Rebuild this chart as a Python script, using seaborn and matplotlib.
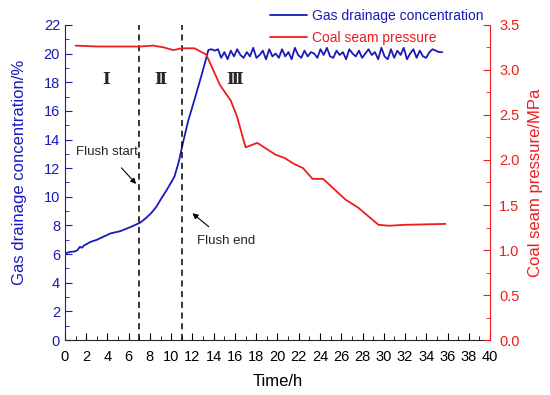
import numpy as np
import matplotlib
matplotlib.use("Agg")
import matplotlib.pyplot as plt
import seaborn as sns
from matplotlib.ticker import MultipleLocator

# gas drainage concentration (%), rising part
conc_time = [0, 0.2, 0.5, 1.0, 1.2, 1.4, 1.6, 1.8, 2.4, 3.0, 4.3, 5.2, 6.2, 7.1,
             7.6, 8.1, 8.6, 9.0, 9.6, 10.3, 10.7, 11.1, 11.6, 12.2, 12.9, 13.5]
conc_rise = [6.0, 6.1, 6.15, 6.2, 6.3, 6.5, 6.45, 6.6, 6.85, 7.0, 7.45, 7.6, 7.9, 8.2,
             8.5, 8.85, 9.3, 9.8, 10.5, 11.4, 12.4, 13.75, 15.3, 16.8, 18.6, 20.25]
# plateau after flushing (13.8 h .. 35.5 h, regular sampling)
conc_plateau = [20.3, 20.2, 20.3, 19.7, 20.1, 19.6, 20.2, 19.8, 20.3, 19.9, 19.7, 20.1,
                19.8, 20.4, 19.7, 19.9, 20.2, 19.6, 20.3, 19.8, 20.0, 19.7, 20.3, 19.8,
                20.1, 19.6, 20.4, 19.9, 19.7, 20.2, 19.8, 20.1, 20.0, 19.7, 20.3, 19.9,
                20.4, 19.8, 19.7, 20.2, 19.9, 20.1, 19.6, 20.3, 20.0, 19.8, 20.2, 19.7,
                20.0, 20.3, 19.9, 20.1, 19.6, 20.4, 19.8, 19.6, 20.3, 19.7, 20.2, 19.9,
                20.4, 19.6, 20.0, 20.3, 19.7, 20.2, 19.8, 19.7, 20.1, 20.3, 20.2, 20.1, 20.1]
plateau_start, plateau_end = 13.8, 35.5

# coal seam pressure (MPa)
pres_time = [1.0, 3, 5, 7.1, 8.3, 9.3, 10.2, 11.0, 12.2, 13.3, 14.6, 15.6, 16.2, 17.0,
             18.1, 19.8, 20.7, 21.5, 22.4, 23.3, 24.3, 25.3, 26.4, 27.6, 29.5, 30.5, 32, 35.8]
pres_vals = [3.27, 3.26, 3.26, 3.26, 3.27, 3.25, 3.22, 3.24, 3.24, 3.17, 2.83, 2.66, 2.48, 2.14,
             2.19, 2.06, 2.02, 1.96, 1.91, 1.79, 1.79, 1.68, 1.56, 1.47, 1.28, 1.27, 1.28, 1.29]

flush_start, flush_end = 7, 11
stage_labels = ["Ⅰ", "Ⅱ", "Ⅲ"]
stage_x = [3.9, 9.0, 16.0]

blue = "#1a1ab8"
red = "#ee1c1c"

sns.set_style("ticks")
plt.rcParams["font.family"] = ["Liberation Sans", "DejaVu Sans"]

t_all = conc_time + list(np.linspace(plateau_start, plateau_end, len(conc_plateau)))
c_all = conc_rise + conc_plateau

fig, ax = plt.subplots(figsize=(5.5, 3.95), dpi=100)
fig.subplots_adjust(left=0.118, right=0.891, bottom=0.139, top=0.937)
ax2 = ax.twinx()

sns.lineplot(x=t_all, y=c_all, ax=ax, color=blue, lw=1.3, sort=False,
             label="Gas drainage concentration", legend=False)
sns.lineplot(x=pres_time, y=pres_vals, ax=ax2, color=red, lw=1.3, sort=False,
             label="Coal seam pressure", legend=False)

for xv in (flush_start, flush_end):
    ax.axvline(xv, color="k", ls=(0, (4, 3)), lw=1.1)

ax.set_xlim(0, 40)
ax.set_ylim(0, 22)
ax2.set_ylim(0, 3.5)
ax.xaxis.set_major_locator(MultipleLocator(2))
ax.xaxis.set_minor_locator(MultipleLocator(1))
ax.yaxis.set_major_locator(MultipleLocator(2))
ax.yaxis.set_minor_locator(MultipleLocator(1))
ax2.yaxis.set_major_locator(MultipleLocator(0.5))
ax2.yaxis.set_minor_locator(MultipleLocator(0.25))

for a in (ax, ax2):
    a.spines["top"].set_visible(False)
ax.spines["left"].set_color(blue)
ax.spines["right"].set_visible(False)
ax2.spines["left"].set_visible(False)
ax2.spines["bottom"].set_visible(False)
ax2.spines["right"].set_color(red)

ax.tick_params(axis="x", which="both", direction="in", labelsize=10.5, colors="k", pad=7)
ax.tick_params(axis="x", which="major", length=5)
ax.tick_params(axis="x", which="minor", length=3)
ax.tick_params(axis="y", which="both", direction="in", colors=blue, labelsize=10.5)
ax.tick_params(axis="y", which="major", length=5)
ax.tick_params(axis="y", which="minor", length=3)
ax2.tick_params(axis="y", which="both", direction="in", colors=red, labelsize=10.5, pad=6.5)
ax2.tick_params(axis="y", which="major", length=5)
ax2.tick_params(axis="y", which="minor", length=3)
ax2.yaxis.set_major_formatter(plt.FormatStrFormatter("%.1f"))

ax.set_xlabel("Time/h", fontsize=12, color="k", labelpad=7)
ax.set_ylabel("Gas drainage concentration/%", fontsize=12, color=blue, labelpad=12)
ax.yaxis.label.set_y(0.533)
ax2.set_ylabel("Coal seam pressure/MPa", fontsize=12, color=red, labelpad=6)

for lab, xv in zip(stage_labels, stage_x):
    ax.text(xv, 18.2, lab, ha="center", va="center", fontsize=12, fontweight="bold",
            family=["DejaVu Serif", "Noto Sans CJK SC"])

ax.annotate("Flush start", xy=(6.7, 10.9), xytext=(4.0, 13.1), ha="center", va="center",
            fontsize=9.5, arrowprops=dict(arrowstyle="-|>", color="k", lw=0.8,
                                          shrinkA=6, shrinkB=0, mutation_scale=8))
ax.annotate("Flush end", xy=(12.0, 8.85), xytext=(15.2, 6.9), ha="center", va="center",
            fontsize=9.5, arrowprops=dict(arrowstyle="-|>", color="k", lw=0.8,
                                          shrinkA=6, shrinkB=0, mutation_scale=8))

h1, l1 = ax.get_legend_handles_labels()
h2, l2 = ax2.get_legend_handles_labels()
fig.legend(h1 + h2, l1 + l2, loc="upper left", bbox_to_anchor=(263 / 550, 1 - 2 / 395),
           frameon=False, fontsize=10, handlelength=2.7, handletextpad=0.35,
           labelspacing=0.55, borderpad=0, labelcolor="linecolor")

fig.savefig("out.png", dpi=100)
